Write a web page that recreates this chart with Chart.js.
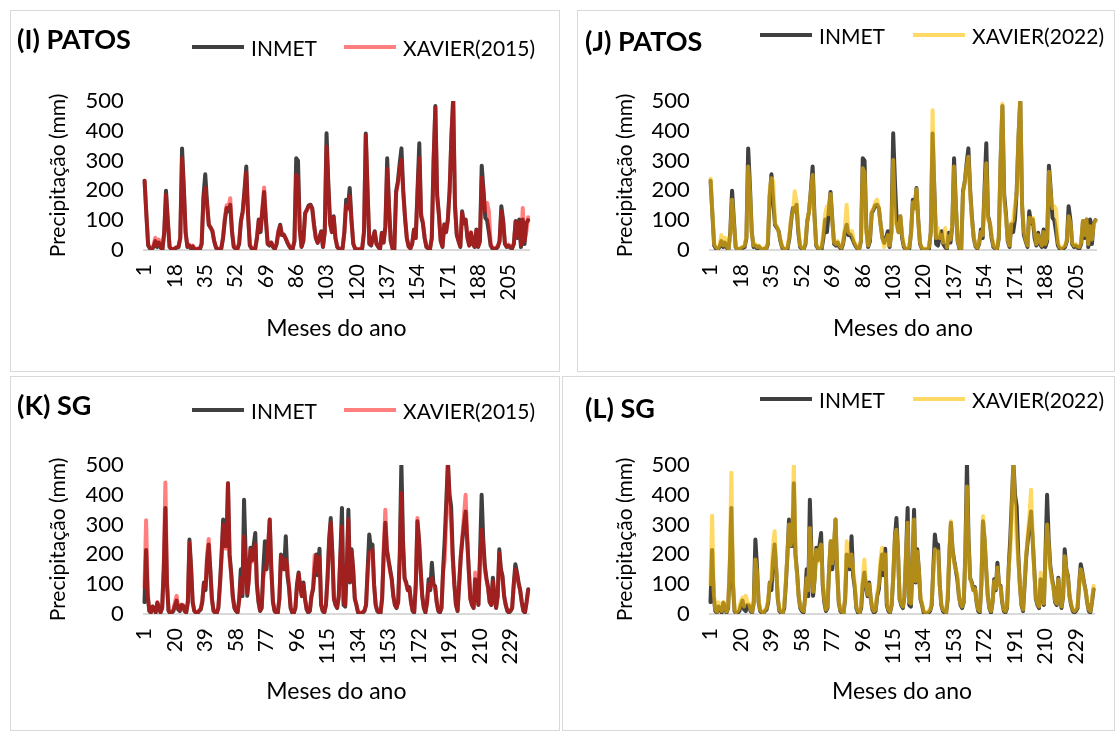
<!DOCTYPE html>
<html>
<head>
<meta charset="utf-8">
<script src="https://cdn.jsdelivr.net/npm/chart.js@4.4.1/dist/chart.umd.min.js"></script>
<style>
  body { margin: 0; background: #fff; font-family: Lato, sans-serif; }
  .painel { position: absolute; border: 1px solid #d9d9d9; box-sizing: border-box; }
  .painel canvas { position: absolute; left: 0; top: 0; }
  .titulo { position: absolute; font-weight: bold; font-size: 27px; line-height: 1; white-space: nowrap; }
  .item { position: absolute; display: flex; align-items: center; font-size: 21px; line-height: 1; height: 24px; white-space: nowrap; }
  .item i { display: inline-block; width: 52px; height: 4px; margin-right: 7px; }
</style>
</head>
<body>

<div class="painel" style="left:10px;top:10px;width:550px;height:362px"><canvas id="gI" width="550" height="362"></canvas></div>
<div class="painel" style="left:577px;top:10px;width:538px;height:362px"><canvas id="gJ" width="538" height="362"></canvas></div>
<div class="painel" style="left:10px;top:376px;width:550px;height:355px"><canvas id="gK" width="550" height="355"></canvas></div>
<div class="painel" style="left:562px;top:376px;width:553px;height:355px"><canvas id="gL" width="553" height="355"></canvas></div>

<div class="titulo" style="left:17px;top:25px">(I) PATOS</div>
<div class="titulo" style="left:585px;top:27px">(J) PATOS</div>
<div class="titulo" style="left:17px;top:391px">(K) SG</div>
<div class="titulo" style="left:585px;top:394px">(L) SG</div>

<div class="item" style="left:192px;top:35px"><i style="background:#404040"></i>INMET</div>
<div class="item" style="left:344px;top:35px"><i style="background:rgba(255,0,0,0.5)"></i>XAVIER(2015)</div>
<div class="item" style="left:760px;top:23px"><i style="background:#404040"></i>INMET</div>
<div class="item" style="left:913px;top:23px"><i style="background:rgba(255,192,0,0.6)"></i>XAVIER(2022)</div>
<div class="item" style="left:192px;top:398px"><i style="background:#404040"></i>INMET</div>
<div class="item" style="left:344px;top:398px"><i style="background:rgba(255,0,0,0.5)"></i>XAVIER(2015)</div>
<div class="item" style="left:760px;top:387px"><i style="background:#404040"></i>INMET</div>
<div class="item" style="left:913px;top:387px"><i style="background:rgba(255,192,0,0.6)"></i>XAVIER(2022)</div>

<script>
// precipitação mensal (mm) - PATOS, 216 meses
const patosInmet = [
  232,120,15,5,3,10,30,10,25,8,2,60,
  199,100,10,3,2,5,8,10,40,341,210,60,
  10,15,5,12,3,2,4,2,20,180,254,160,
  85,75,63,30,8,3,2,5,40,100,141,130,
  152,60,10,5,3,20,97,130,200,280,120,15,
  5,2,3,40,102,60,130,195,100,20,15,25,
  10,3,20,60,85,50,52,40,25,13,5,3,
  30,308,300,70,10,30,124,135,150,152,140,85,
  40,24,40,63,10,60,392,225,90,60,113,40,
  10,3,2,5,60,169,140,208,100,20,5,2,
  2,3,5,60,391,200,20,15,40,63,20,10,
  3,58,25,80,308,150,30,5,3,197,230,290,
  341,200,108,40,12,5,20,69,40,200,358,113,
  90,40,10,5,3,40,300,483,186,119,30,10,
  86,60,102,200,380,510,150,50,30,10,130,90,
  102,40,15,58,20,10,69,10,30,283,200,108,
  100,60,15,5,3,5,10,30,147,100,20,10,
  15,8,5,20,97,40,102,10,102,20,90,100
];
const patosXavier2015 = [
  232,115,20,8,5,15,41,15,35,10,3,55,
  185,95,12,4,3,6,10,12,40,308,200,55,
  12,18,8,15,5,3,5,3,25,170,208,150,
  85,75,65,30,10,4,3,8,45,110,150,140,
  174,65,12,6,4,25,95,125,190,260,115,18,
  6,3,5,45,100,65,140,210,105,22,18,25,
  12,5,22,65,80,50,50,40,28,15,6,5,
  30,252,240,65,12,35,120,135,145,150,135,80,
  40,25,40,60,12,60,347,210,85,60,110,40,
  12,5,3,8,60,150,135,180,95,22,6,3,
  3,5,8,60,385,195,22,18,40,60,20,12,
  5,55,25,80,272,145,30,6,4,190,220,270,
  302,190,110,40,12,6,22,65,40,190,308,125,
  95,40,12,6,5,40,290,478,180,115,30,12,
  85,60,100,200,380,510,150,55,30,12,125,90,
  100,45,15,60,22,12,65,12,30,243,190,130,
  158,130,20,8,5,8,12,30,130,95,22,12,
  18,10,8,22,95,45,90,15,141,30,60,110
];
const patosXavier2022 = [
  239,125,20,10,5,15,50,15,41,12,4,50,
  169,90,12,5,3,8,12,15,45,280,190,55,
  15,20,10,15,6,4,8,5,25,200,241,230,
  90,80,60,35,12,5,4,10,50,110,124,197,
  163,70,15,8,5,25,100,130,195,252,110,20,
  8,5,10,60,120,147,120,188,95,25,20,30,
  15,8,25,75,152,60,55,63,30,18,8,5,
  35,274,260,60,15,40,130,140,160,169,140,85,
  40,10,30,50,15,55,302,97,80,60,113,50,
  15,5,3,10,60,160,140,205,95,25,8,5,
  4,6,10,60,469,180,40,74,40,50,25,74,
  8,45,35,85,280,145,35,8,5,190,230,280,
  313,190,100,45,15,8,25,60,50,180,291,102,
  95,50,15,8,6,45,300,491,163,110,35,15,
  90,100,152,190,380,510,150,65,35,15,108,95,
  108,60,20,50,30,15,60,20,40,263,185,140,
  147,136,25,10,6,10,15,35,113,90,25,15,
  20,12,10,25,97,50,102,20,80,35,85,99
];

// precipitação mensal (mm) - SG, 240 meses
const sgInmet = [
  40,215,60,10,5,25,15,5,38,20,5,20,
  150,356,100,10,3,5,10,30,45,15,10,30,
  28,10,5,40,250,160,40,10,5,3,10,15,
  40,106,80,180,233,150,50,10,5,3,20,100,
  200,317,228,228,439,200,139,60,20,10,5,50,
  150,60,383,200,61,120,222,180,230,272,100,40,
  10,20,150,244,150,220,317,150,40,10,5,3,
  50,200,180,150,261,130,89,20,5,3,20,100,
  139,90,60,106,50,15,5,10,60,83,150,200,
  130,219,30,10,5,30,120,250,322,205,50,30,
  20,60,200,356,30,25,150,350,106,217,150,50,
  30,5,3,2,5,10,30,150,267,220,233,100,
  30,10,5,3,50,200,306,217,180,150,117,60,
  30,20,40,200,510,250,120,106,80,90,40,10,
  5,100,311,250,150,60,20,5,40,117,80,172,
  100,94,40,10,5,20,150,250,380,510,400,361,
  200,100,30,10,100,194,250,300,344,250,150,50,
  30,20,117,80,30,200,400,250,161,120,90,40,
  30,122,60,20,60,217,150,128,60,30,10,5,
  10,20,100,167,140,106,80,40,10,5,40,83
];
const sgXavier2015 = [
  90,315,70,12,6,25,18,8,40,22,6,22,
  160,441,110,12,5,8,15,40,61,20,12,32,
  30,12,6,42,239,150,40,12,6,4,12,18,
  45,100,90,200,252,140,50,12,6,5,25,95,
  190,300,220,220,439,190,130,55,22,12,8,45,
  120,70,261,180,70,110,215,175,215,233,100,45,
  12,22,120,150,160,230,317,150,45,12,6,5,
  50,194,175,150,183,160,100,25,8,5,25,95,
  135,90,60,100,50,18,8,12,60,90,197,195,
  140,190,35,12,6,30,115,240,306,200,50,32,
  22,60,190,294,40,30,150,317,110,210,145,55,
  32,8,5,4,8,12,30,140,206,200,215,95,
  32,12,8,5,55,220,350,210,180,140,117,60,
  32,22,40,180,406,230,120,100,80,85,40,12,
  8,100,322,240,145,60,22,8,40,100,85,120,
  95,90,40,12,8,22,140,183,330,510,380,306,
  180,100,32,12,100,190,260,330,400,260,140,50,
  32,22,139,80,32,180,283,230,150,115,85,40,
  32,110,60,22,60,205,145,120,60,32,12,8,
  12,22,95,150,135,100,80,40,12,8,40,80
];
const sgXavier2022 = [
  100,330,75,15,8,39,20,10,40,25,8,25,
  170,474,120,15,6,10,20,45,55,25,61,40,
  35,15,8,40,183,140,45,15,8,5,15,20,
  50,100,120,230,278,150,55,15,8,6,30,110,
  200,300,230,260,510,200,130,60,25,15,10,45,
  120,80,289,190,75,120,215,175,215,233,110,50,
  15,25,150,244,170,230,317,150,45,15,8,5,
  55,244,200,160,200,150,100,25,10,6,30,120,
  183,100,65,100,50,20,10,15,70,100,180,222,
  150,200,40,15,8,35,120,250,283,200,55,35,
  25,65,200,306,40,35,150,317,110,210,145,55,
  35,10,6,5,10,15,35,140,217,200,210,95,
  35,15,10,6,60,210,311,215,170,150,133,60,
  35,25,45,190,428,230,120,100,80,85,45,15,
  10,110,328,250,150,60,25,10,45,110,85,156,
  95,90,45,15,10,25,150,206,350,510,350,250,
  180,100,35,15,110,200,270,330,417,260,140,55,
  35,25,139,85,35,190,300,230,150,110,85,45,
  35,117,65,25,65,194,150,120,60,35,15,10,
  15,25,100,150,135,100,80,45,15,10,45,94
];

const patosMeses = patosInmet.map((_, i) => i + 1);
const sgMeses = sgInmet.map((_, i) => i + 1);
const patosPasso = 17;
const sgPasso = 19;
const yTicks = [0, 100, 200, 300, 400, 500];

const corInmet = '#404040';
const cor2015 = 'rgba(255,0,0,0.5)';
const cor2022 = 'rgba(255,192,0,0.6)';

function linha(label, data, cor) {
  return { label, data, borderColor: cor, borderWidth: 4, pointRadius: 0, tension: 0,
           borderJoinStyle: 'round', borderCapStyle: 'round' };
}

function grafico(id, meses, passo, inmet, xavier, corXavier, area) {
  new Chart(document.getElementById(id), {
    type: 'line',
    data: {
      labels: meses,
      datasets: [linha('XAVIER', xavier, corXavier), linha('INMET', inmet, corInmet)]
    },
    options: {
      responsive: false,
      animation: false,
      layout: { padding: { top: area.top, right: area.right, left: 0, bottom: 0 } },
      plugins: { legend: { display: false }, tooltip: { enabled: false } },
      scales: {
        x: {
          offset: true,
          grid: { display: false, drawTicks: false },
          border: { color: '#d9d9d9', width: 2 },
          ticks: {
            autoSkip: false, maxRotation: 90, minRotation: 90, padding: 14,
            color: '#000', font: { size: 21 },
            callback: (v, i) => i % passo === 0 ? meses[i] : null
          },
          title: { display: true, text: 'Meses do ano', color: '#000', font: { size: 23 }, padding: { top: 0, bottom: area.xTitulo } },
          afterFit: s => { s.height = area.xAltura; }
        },
        y: {
          min: 0, max: 500,
          afterBuildTicks: s => { s.ticks = yTicks.map(v => ({ value: v })); },
          grid: { display: false, drawTicks: false },
          border: { display: false },
          ticks: { padding: 20, color: '#000', font: { size: 22 } },
          title: { display: true, text: 'Precipitação (mm)', color: '#000', font: { size: 21 }, padding: { top: area.yTitulo, bottom: 0 } },
          afterFit: s => { s.width = area.left; }
        }
      }
    }
  });
}

function desenhar() {
  Chart.defaults.font.family = 'Lato';
  grafico('gI', patosMeses, patosPasso, patosInmet, patosXavier2015, cor2015,
    { left: 132.7, top: 90, right: 32, xAltura: 123, xTitulo: 31, yTitulo: 35 });
  grafico('gJ', patosMeses, patosPasso, patosInmet, patosXavier2022, cor2022,
    { left: 131.7, top: 90, right: 19, xAltura: 123, xTitulo: 31, yTitulo: 35 });
  grafico('gK', sgMeses, sgPasso, sgInmet, sgXavier2015, cor2015,
    { left: 132.7, top: 88, right: 32, xAltura: 118, xTitulo: 27, yTitulo: 35 });
  grafico('gL', sgMeses, sgPasso, sgInmet, sgXavier2022, cor2022,
    { left: 146.7, top: 88, right: 18, xAltura: 118, xTitulo: 27, yTitulo: 50 });
}

document.fonts.load('20px Lato').then(desenhar, desenhar);
</script>
</body>
</html>
